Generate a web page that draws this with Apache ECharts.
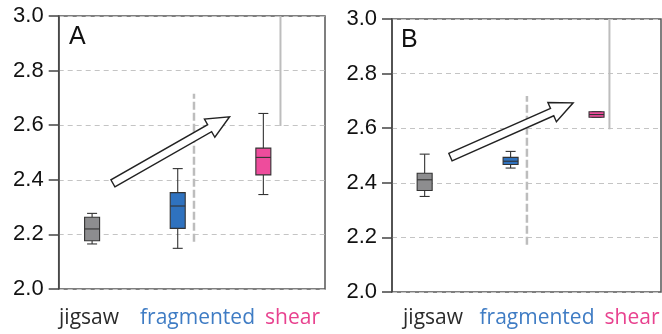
<!DOCTYPE html>
<html><head><meta charset="utf-8">
<script src="https://cdn.jsdelivr.net/npm/echarts@6/dist/echarts.min.js"></script>
<style>html,body{margin:0;padding:0;background:#fff}#c{width:662px;height:334px}</style>
</head><body><div id="c"></div>
<script>
// ---- data ----
const categories = ['jigsaw', 'fragmented', 'shear'];
const catX = [0, 1, 2];
// [min, Q1, median, Q3, max]
const statsA = [[2.165, 2.177, 2.220, 2.263, 2.277], [2.149, 2.222, 2.304, 2.353, 2.441], [2.346, 2.418, 2.482, 2.516, 2.643]];
const statsB = [[2.350, 2.372, 2.411, 2.435, 2.505], [2.454, 2.467, 2.479, 2.493, 2.515], [2.640, 2.640, 2.650, 2.660, 2.660]];
const arrowA = [[0.243, 2.387], [1.606, 2.631]];
const arrowB = [[0.30, 2.494], [1.728, 2.693]];
const dashedA = [[1.19, 2.173], [1.19, 2.715]];
const solidA = [[2.2, 2.597], [2.2, 3.0]];
const dashedB = [[1.19, 2.173], [1.19, 2.718]];
const solidB = [[2.15, 2.596], [2.15, 3.0]];
const yTicks = [2.0, 2.2, 2.4, 2.6, 2.8, 3.0];
const panelLabels = ['A', 'B'];

// ---- styles ----
const boxColors = ['#8d8d8f', '#2f72bf', '#ee4c9c'];
const labelColors = ['#2b2b2b', '#3f7cc4', '#e8428f'];

const chart = echarts.init(document.getElementById('c'), null, {renderer: 'canvas'});

function boxSeries(stats, gi) {
  return {
    type: 'custom', xAxisIndex: gi, yAxisIndex: gi, z: 5,
    data: stats.map((s, i) => [catX[i]].concat(s)),
    renderItem(params, api) {
      const x = api.value(0);
      const p = [1, 2, 3, 4, 5].map(k => api.coord([x, api.value(k)]));
      const cx = p[0][0];
      const bw = 15, cw = 10;
      const stroke = {stroke: '#333', lineWidth: 1.1, fill: null};
      const col = boxColors[params.dataIndex];
      return {
        type: 'group', children: [
          {type: 'line', shape: {x1: cx, y1: p[4][1], x2: cx, y2: p[3][1]}, style: stroke},
          {type: 'line', shape: {x1: cx, y1: p[1][1], x2: cx, y2: p[0][1]}, style: stroke},
          {type: 'line', shape: {x1: cx - cw / 2, y1: p[4][1], x2: cx + cw / 2, y2: p[4][1]}, style: stroke},
          {type: 'line', shape: {x1: cx - cw / 2, y1: p[0][1], x2: cx + cw / 2, y2: p[0][1]}, style: stroke},
          {type: 'rect', shape: {x: cx - bw / 2, y: p[3][1], width: bw, height: Math.max(p[1][1] - p[3][1], 1)},
            style: {fill: col, stroke: '#333', lineWidth: 1.1}},
          {type: 'line', shape: {x1: cx - bw / 2, y1: p[2][1], x2: cx + bw / 2, y2: p[2][1]}, style: stroke}
        ]
      };
    }
  };
}

function arrowSeries(arr, gi) {
  return {
    type: 'custom', xAxisIndex: gi, yAxisIndex: gi, z: 6,
    data: [[arr[0][0], arr[0][1], arr[1][0], arr[1][1]]],
    renderItem(params, api) {
      const a = api.coord([api.value(0), api.value(1)]);
      const b = api.coord([api.value(2), api.value(3)]);
      const dx = b[0] - a[0], dy = b[1] - a[1];
      const L = Math.hypot(dx, dy);
      const ux = dx / L, uy = dy / L, nx = -uy, ny = ux;
      const sw = 4, hw = 10.5, hl = 23;
      const bx = b[0] - ux * hl, by = b[1] - uy * hl;
      const pts = [
        [a[0] + nx * sw, a[1] + ny * sw],
        [bx + nx * sw, by + ny * sw],
        [bx + nx * hw, by + ny * hw],
        [b[0], b[1]],
        [bx - nx * hw, by - ny * hw],
        [bx - nx * sw, by - ny * sw],
        [a[0] - nx * sw, a[1] - ny * sw]
      ];
      return {type: 'polygon', shape: {points: pts}, style: {fill: '#fff', stroke: '#222', lineWidth: 1.4}};
    }
  };
}

function vline(data, gi, dashed) {
  return {
    type: 'line', xAxisIndex: gi, yAxisIndex: gi, data: data, symbol: 'none', z: 3, silent: true,
    lineStyle: {color: '#bdbdbd', width: dashed ? 2.5 : 2, type: dashed ? [8, 3] : 'solid'}
  };
}

function yAxis(gi) {
  return {
    type: 'value', gridIndex: gi, min: 2, max: 3, interval: 0.2,
    axisLine: {show: true, onZero: false, lineStyle: {color: '#444', width: 1.5}},
    axisTick: {show: true, inside: false, length: 10, lineStyle: {color: '#444', width: 1.5}},
    axisLabel: {margin: 15, fontSize: 22, fontFamily: 'Liberation Sans', color: '#111',
      formatter: v => { const t = yTicks.find(q => Math.abs(q - v) < 1e-6); return t !== undefined ? t.toFixed(1) : ''; }},
    splitLine: {show: true, lineStyle: {color: '#c4c4c4', width: 1, type: [5, 4]}}
  };
}

const labelPosA = [89, 197.5, 292.5];
const labelPosB = [433, 537, 632];
const graphics = [];
[labelPosA, labelPosB].forEach(pos => {
  categories.forEach((c, i) => {
    graphics.push({type: 'text', x: pos[i], y: 318, style: {text: c, fill: labelColors[i],
      fontSize: 21, fontFamily: 'Open Sans', textAlign: 'center', textVerticalAlign: 'middle'}});
  });
});
graphics.push({type: 'text', x: 69, y: 37, style: {text: panelLabels[0], fill: '#111', fontSize: 25, fontFamily: 'Liberation Sans', textVerticalAlign: 'middle'}});
graphics.push({type: 'text', x: 401, y: 40, style: {text: panelLabels[1], fill: '#111', fontSize: 25, fontFamily: 'Liberation Sans', textVerticalAlign: 'middle'}});

chart.setOption({
  animation: false,
  grid: [
    {left: 58.7, top: 16, width: 266.3, height: 273, show: true, borderColor: '#555', borderWidth: 1.5},
    {left: 392, top: 19, width: 269, height: 273, show: true, borderColor: '#555', borderWidth: 1.5}
  ],
  xAxis: [
    {type: 'value', gridIndex: 0, min: -0.39, max: 2.72, show: false},
    {type: 'value', gridIndex: 1, min: -0.38, max: 2.75, show: false}
  ],
  yAxis: [yAxis(0), yAxis(1)],
  series: [
    vline(dashedA, 0, true), vline(solidA, 0, false),
    vline(dashedB, 1, true), vline(solidB, 1, false),
    boxSeries(statsA, 0), boxSeries(statsB, 1),
    arrowSeries(arrowA, 0), arrowSeries(arrowB, 1)
  ],
  graphic: graphics
});
</script></body></html>
